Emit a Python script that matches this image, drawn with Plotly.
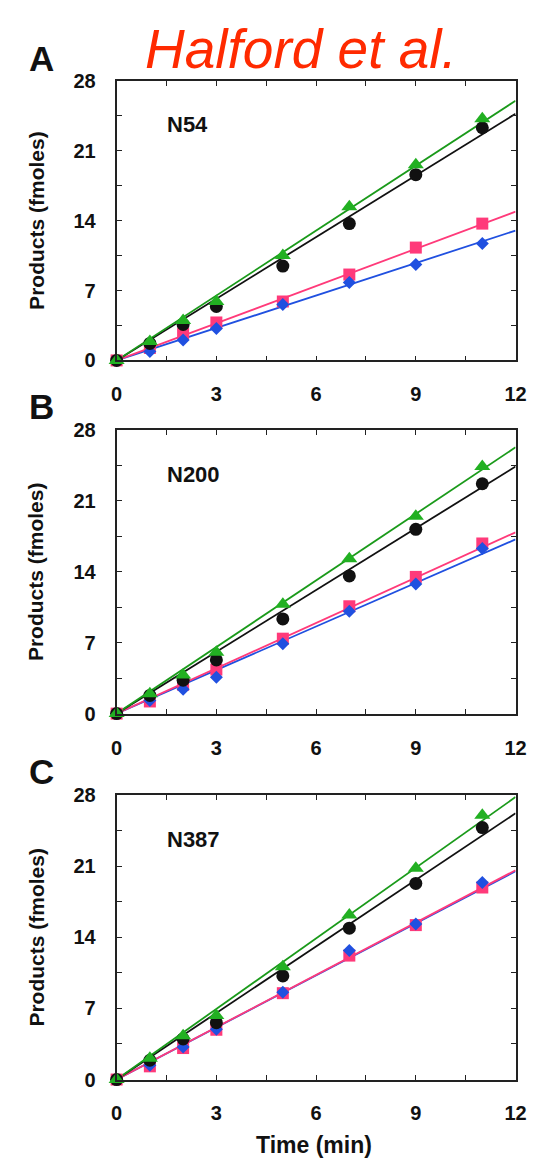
import plotly.graph_objects as go

# ---------------- data ----------------
time_min = [0, 1, 2, 3, 5, 7, 9, 11]

panels = ["N54", "N200", "N387"]
panel_letters = ["A", "B", "C"]

# marker values (fmoles) per panel
green_vals = [
    [0, 1.9, 4.0, 5.9, 10.5, 15.4, 19.6, 24.2],
    [0, 1.95, 3.8, 6.05, 10.8, 15.3, 19.5, 24.4],
    [0, 2.1, 4.3, 6.3, 11.1, 16.2, 20.8, 26.0],
]
black_vals = [
    [0, 1.7, 3.6, 5.4, 9.45, 13.7, 18.6, 23.3],
    [0, 1.8, 3.3, 5.3, 9.35, 13.6, 18.2, 22.7],
    [0, 1.9, 4.0, 5.6, 10.2, 14.9, 19.3, 24.8],
]
pink_vals = [
    [0, 1.25, 2.7, 3.8, 5.9, 8.6, 11.3, 13.7],
    [0, 1.2, 2.85, 4.35, 7.4, 10.6, 13.5, 16.8],
    [0, 1.3, 3.1, 4.9, 8.5, 12.2, 15.2, 18.9],
]
blue_vals = [
    [0, 0.9, 2.05, 3.2, 5.6, 7.8, 9.6, 11.7],
    [0, 1.3, 2.4, 3.6, 6.9, 10.1, 12.8, 16.3],
    [0, 1.4, 3.2, 4.95, 8.6, 12.7, 15.3, 19.4],
]

# fitted-line values at the end of the time axis (t = 12 min), lines start at origin
fit_t = [0, 12]
green_fit_end = [26.0, 26.3, 27.8]
black_fit_end = [24.7, 24.4, 26.2]
pink_fit_end = [14.9, 17.9, 20.6]
blue_fit_end = [13.0, 17.2, 20.5]

x_ticks = [0, 3, 6, 9, 12]
y_ticks = [0, 7, 14, 21, 28]

# ---------------- styling ----------------
GREEN = "#22b022"
GREEN_LINE = "#1a9a1a"
BLACK = "#111111"
PINK = "#ff3a7a"
BLUE = "#2050e0"
FONT = "Liberation Sans, Arial, Helvetica, sans-serif"

W, H = 535, 1163
x_dom = [106 / W, 518 / W]
# pixel top/bottom of each panel
panel_px = [(63, 348), (419, 708), (791, 1081)]
letter_y = [40, 395, 767]

fig = go.Figure()

for i in range(3):
    xa = "x" if i == 0 else f"x{i+1}"
    ya = "y" if i == 0 else f"y{i+1}"
    # lines first
    for ends, col in [(blue_fit_end, BLUE), (pink_fit_end, PINK),
                      (black_fit_end, BLACK), (green_fit_end, GREEN_LINE)]:
        fig.add_trace(go.Scatter(
            x=fit_t, y=[0, ends[i]], mode="lines",
            line=dict(color=col, width=1.8),
            xaxis=xa, yaxis=ya, showlegend=False, hoverinfo="skip"))
    # markers
    for vals, col, sym, size in [(pink_vals, PINK, "square", 12),
                                 (blue_vals, BLUE, "diamond", 10),
                                 (black_vals, BLACK, "circle", 13),
                                 (green_vals, GREEN, "triangle-up", 14)]:
        fig.add_trace(go.Scatter(
            x=time_min, y=vals[i], mode="markers",
            marker=dict(color=col, symbol=sym, size=size, line=dict(width=0)),
            cliponaxis=False,
            xaxis=xa, yaxis=ya, showlegend=False))

layout = dict(
    width=W, height=H,
    margin=dict(l=0, r=0, t=0, b=0),
    paper_bgcolor="white", plot_bgcolor="white",
    font=dict(family=FONT, color="black"),
)

annotations = []
for i in range(3):
    top, bot = panel_px[i]
    dom = [1 - bot / H, 1 - top / H]
    axis_common = dict(
        showgrid=False, zeroline=False, showline=True, linecolor="#222222",
        linewidth=1.8, mirror="ticks", ticks="inside", ticklen=5,
        tickwidth=1.3, tickcolor="#222222",
        tickfont=dict(family=FONT, size=20, weight="bold", color="#111111"),
    )
    xkey = "xaxis" if i == 0 else f"xaxis{i+1}"
    ykey = "yaxis" if i == 0 else f"yaxis{i+1}"
    layout[xkey] = dict(
        axis_common, domain=x_dom, range=[0, 12],
        tickmode="array", tickvals=x_ticks, ticktext=[str(v) for v in x_ticks],
        minor=dict(tickvals=[1.5, 4.5, 7.5, 10.5], ticks="inside", ticklen=5,
                   tickwidth=1.3, tickcolor="#222222"),
        ticklabelstandoff=15,
        anchor="y" if i == 0 else f"y{i+1}",
    )
    layout[ykey] = dict(
        axis_common, domain=dom, range=[0, 28],
        tickmode="array", tickvals=y_ticks, ticktext=[str(v) for v in y_ticks],
        minor=dict(tickvals=[3.5, 10.5, 17.5, 24.5], ticks="inside", ticklen=5,
                   tickwidth=1.3, tickcolor="#222222"),
        ticklabelstandoff=15,
        anchor="x" if i == 0 else f"x{i+1}",
    )
    # panel letter
    annotations.append(dict(
        text=panel_letters[i], x=28 / W, y=1 - letter_y[i] / H,
        xref="paper", yref="paper", showarrow=False,
        xanchor="center", yanchor="middle",
        font=dict(family=FONT, size=35, weight="bold", color="#111111")))
    # construct label
    annotations.append(dict(
        text=panels[i], x=156 / W, y=1 - (top + 45) / H,
        xref="paper", yref="paper", showarrow=False,
        xanchor="left", yanchor="middle",
        font=dict(family=FONT, size=22, weight="bold", color="#111111")))
    # y axis title
    annotations.append(dict(
        text="Products (fmoles)", x=23 / W, y=1 - ((top + bot) / 2) / H,
        xref="paper", yref="paper", showarrow=False, textangle=-90,
        xanchor="center", yanchor="middle",
        font=dict(family=FONT, size=21, weight="bold", color="#111111")))

# x axis title (bottom panel)
annotations.append(dict(
    text="Time (min)", x=310 / W, y=1 - 1148 / H,
    xref="paper", yref="paper", showarrow=False,
    xanchor="center", yanchor="middle",
    font=dict(family=FONT, size=23, weight="bold", color="#111111")))

# header
annotations.append(dict(
    text="<i>Halford et al.</i>", x=296 / W, y=1 - 31 / H,
    xref="paper", yref="paper", showarrow=False,
    xanchor="center", yanchor="middle",
    font=dict(family=FONT, size=55, color="#ff2a00")))

layout["annotations"] = annotations
fig.update_layout(**layout)
fig.write_html("out.html")
